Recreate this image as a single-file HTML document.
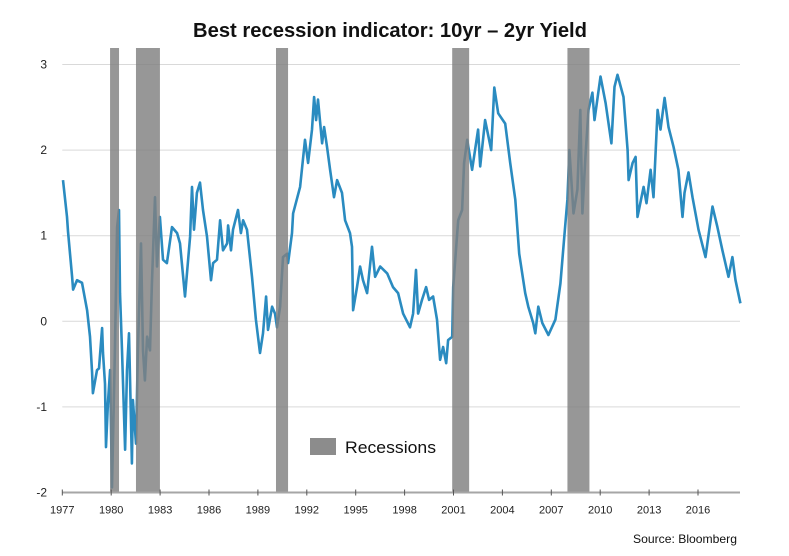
<!DOCTYPE html>
<html><head><meta charset="utf-8"><style>
body{margin:0;background:#fff;}
svg{display:block;font-family:"Liberation Sans",Calibri,sans-serif;}
</style></head><body>
<svg id="chart" width="789" height="556" viewBox="0 0 789 556">
<text x="390" y="37" text-anchor="middle" font-size="20" font-weight="bold" fill="#111" textLength="394" lengthAdjust="spacingAndGlyphs">Best recession indicator: 10yr – 2yr Yield</text>
<g id="grid"></g><g id="line"></g><g id="bars"></g><g id="axes"></g>
<rect x="310" y="438" width="26" height="17" fill="#8c8c8c"/>
<text x="345" y="453" font-size="17" fill="#111" textLength="91" lengthAdjust="spacingAndGlyphs">Recessions</text>
<text x="737" y="543" text-anchor="end" font-size="12" fill="#111" textLength="104" lengthAdjust="spacingAndGlyphs">Source: Bloomberg</text>
</svg>
<script>
const years=[1977.04,1977.29,1977.35,1977.60,1977.66,1977.90,1978.21,1978.52,1978.70,1978.83,1978.88,1979.13,1979.25,1979.44,1979.50,1979.62,1979.68,1979.80,1979.93,1980.05,1980.23,1980.36,1980.48,1980.54,1980.66,1980.85,1980.97,1981.09,1981.21,1981.27,1981.33,1981.52,1981.64,1981.83,1981.95,1982.07,1982.20,1982.38,1982.50,1982.69,1982.81,1982.99,1983.18,1983.42,1983.73,1984.04,1984.22,1984.53,1984.84,1984.96,1985.08,1985.26,1985.45,1985.63,1985.88,1986.12,1986.25,1986.49,1986.68,1986.86,1987.11,1987.17,1987.35,1987.47,1987.78,1987.96,1988.09,1988.33,1988.64,1988.88,1989.13,1989.31,1989.50,1989.62,1989.87,1990.05,1990.17,1990.36,1990.54,1990.79,1990.85,1991.09,1991.16,1991.59,1991.89,1992.08,1992.32,1992.45,1992.57,1992.69,1992.94,1993.06,1993.24,1993.43,1993.67,1993.86,1994.16,1994.35,1994.65,1994.77,1994.84,1995.08,1995.27,1995.45,1995.70,1996.00,1996.19,1996.50,1996.93,1997.29,1997.60,1997.91,1998.33,1998.52,1998.70,1998.83,1999.07,1999.32,1999.50,1999.75,1999.99,2000.18,2000.36,2000.55,2000.67,2000.92,2000.98,2001.29,2001.53,2001.65,2001.84,2002.14,2002.51,2002.64,2002.94,2003.31,2003.50,2003.74,2004.17,2004.48,2004.79,2005.03,2005.40,2005.59,2005.89,2006.02,2006.20,2006.45,2006.82,2007.25,2007.56,2007.80,2007.99,2008.11,2008.36,2008.60,2008.78,2008.91,2009.09,2009.28,2009.52,2009.65,2010.02,2010.33,2010.69,2010.88,2011.06,2011.43,2011.68,2011.74,2011.99,2012.17,2012.29,2012.66,2012.84,2013.09,2013.27,2013.52,2013.70,2013.95,2014.19,2014.50,2014.80,2015.05,2015.17,2015.42,2015.66,2016.03,2016.46,2016.89,2017.19,2017.50,2017.87,2018.11,2018.30,2018.60];
const spread=[1.65,1.22,1.05,0.52,0.37,0.48,0.45,0.13,-0.18,-0.6,-0.84,-0.57,-0.55,-0.08,-0.37,-0.73,-1.47,-0.96,-0.57,-1.94,-0.34,1.1,1.3,0.33,-0.34,-1.5,-0.57,-0.14,-1.12,-1.66,-0.92,-1.43,-0.34,0.91,-0.34,-0.69,-0.18,-0.34,0.44,1.45,0.64,1.22,0.72,0.68,1.1,1.03,0.91,0.29,0.99,1.57,1.07,1.5,1.62,1.3,0.99,0.48,0.68,0.72,1.18,0.83,0.91,1.12,0.83,1.07,1.3,1.03,1.18,1.07,0.52,0.02,-0.37,-0.14,0.29,-0.1,0.17,0.09,-0.07,0.17,0.75,0.79,0.68,1.03,1.26,1.57,2.12,1.85,2.24,2.62,2.35,2.59,2.08,2.27,2.04,1.77,1.45,1.65,1.5,1.18,1.03,0.87,0.13,0.4,0.64,0.48,0.33,0.87,0.52,0.64,0.56,0.4,0.33,0.09,-0.07,0.09,0.6,0.09,0.25,0.4,0.25,0.29,0.02,-0.45,-0.3,-0.49,-0.22,-0.18,0.4,1.18,1.3,1.85,2.12,1.77,2.24,1.81,2.35,2.0,2.73,2.43,2.31,1.85,1.42,0.79,0.33,0.17,-0.02,-0.14,0.17,-0.02,-0.16,0.02,0.44,0.99,1.42,2.0,1.26,1.54,2.47,1.26,1.92,2.47,2.67,2.35,2.86,2.55,2.08,2.74,2.88,2.62,2.0,1.65,1.85,1.92,1.22,1.57,1.38,1.77,1.45,2.47,2.24,2.61,2.27,2.04,1.77,1.22,1.5,1.74,1.45,1.07,0.75,1.34,1.1,0.83,0.52,0.75,0.48,0.21];
const recessionStarts=[1979.93,1981.52,1990.11,2000.92,2007.99];
const recessionEnds=[1980.48,1982.99,1990.85,2001.96,2009.34];
const yTicks=[-2,-1,0,1,2,3];
const xTickLabels=[1977,1980,1983,1986,1989,1992,1995,1998,2001,2004,2007,2010,2013,2016];

const NS='http://www.w3.org/2000/svg';
const X0=62.3,PXY=16.3,Y0=321.3,PXV=85.6,XEND=740;
const xs=y=>X0+(y-1977)*PXY;
const ys=v=>Y0-v*PXV;
function mk(tag,attrs,parent){const e=document.createElementNS(NS,tag);for(const k in attrs)e.setAttribute(k,attrs[k]);parent.appendChild(e);return e;}
const grid=document.getElementById('grid'),axes=document.getElementById('axes'),bars=document.getElementById('bars'),lineG=document.getElementById('line');
yTicks.forEach(t=>{
  if(t>-2){const g=mk('line',{x1:X0,x2:XEND,y1:ys(t),y2:ys(t),stroke:'#d9d9d9','stroke-width':1},grid);
  
  }
  const l=mk('text',{x:47,y:ys(t)+4,'text-anchor':'end','font-size':12,fill:'#222'},axes);
  l.textContent=(t<0?'-'+Math.abs(t):t);
  
  
});
let d='';
years.forEach((y,i)=>{d+=(i?'L':'M')+xs(y).toFixed(1)+' '+ys(spread[i]).toFixed(1);});
const p=mk('path',{d:d,fill:'none',stroke:'#2a8bc0','stroke-width':2.6,'stroke-linejoin':'round'},lineG);


recessionStarts.forEach((s,i)=>{
  const r=mk('rect',{x:xs(s),y:48,width:xs(recessionEnds[i])-xs(s),height:ys(-2)-48,fill:'rgba(128,128,128,0.82)'},bars);
  
  
});
const ax=mk('line',{x1:X0,x2:XEND,y1:ys(-2),y2:ys(-2),stroke:'#a6a6a6','stroke-width':2},axes);


xTickLabels.forEach(t=>{
  const tk=mk('line',{x1:xs(t),x2:xs(t),y1:ys(-2)-3,y2:ys(-2)+3,stroke:'#555','stroke-width':1},axes);
  
  
  const l=mk('text',{x:xs(t),y:ys(-2)+21,'text-anchor':'middle','font-size':11,fill:'#222'},axes);
  l.textContent=t;
  
  
});
</script>
</body></html>
